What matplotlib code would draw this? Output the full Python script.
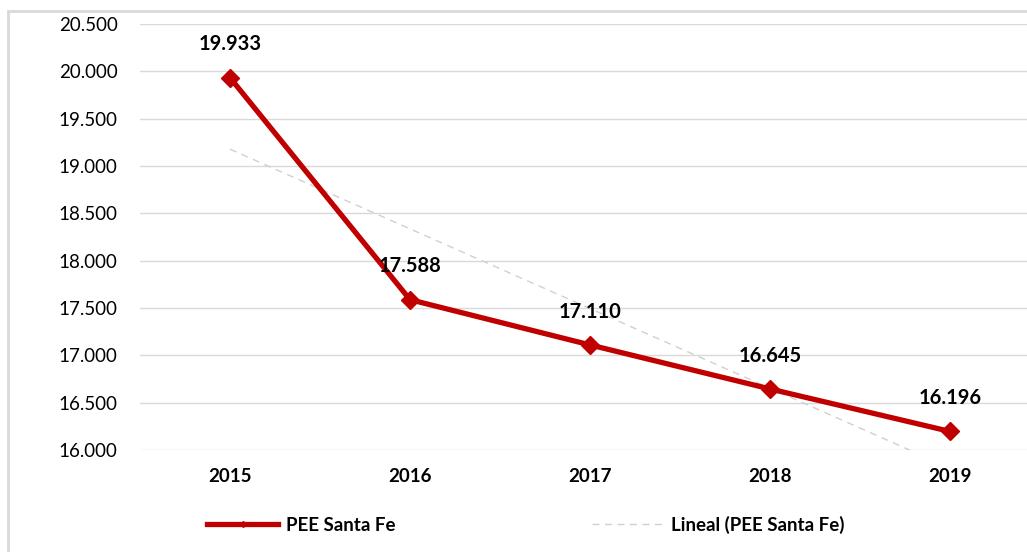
import matplotlib
matplotlib.use("Agg")
import matplotlib.pyplot as plt
from matplotlib.ticker import FuncFormatter, MultipleLocator
from matplotlib.lines import Line2D
from matplotlib.patches import Rectangle
import numpy as np

years = ["2015", "2016", "2017", "2018", "2019"]
values = [19933, 17588, 17110, 16645, 16196]
series_name = "PEE Santa Fe"
trend_name = "Lineal (PEE Santa Fe)"

plt.rcParams['font.family'] = ['Lato', 'DejaVu Sans']

W, H = 1027, 552
fig = plt.figure(figsize=(W / 100, H / 100), dpi=100)

# outer frame
fig.patches.append(Rectangle((8 / W, -0.1), 1.2, 1 - 11 / H + 0.1, transform=fig.transFigure,
                             fill=False, edgecolor='#d9d9d9', linewidth=2))

left, right, top, bottom = 140, 1040, 24, 450
ax = fig.add_axes([left / W, 1 - bottom / H, (right - left) / W, (bottom - top) / H])

x = np.arange(len(years))
red = '#C00000'
ax.plot(x, values, color=red, linewidth=3.8, marker='D', markersize=9, zorder=3)

# linear trend
coef = np.polyfit(x, values, 1)
xt = np.array([x[0], x[-1]])
ax.plot(xt, np.polyval(coef, xt), color='#d0d0d0', linewidth=1, linestyle=(0, (5, 4)), zorder=2)

for xi, v in zip(x, values):
    ax.annotate(f"{v:,}".replace(',', '.'), (xi, v), xytext=(0, 24), textcoords='offset points',
                ha='center', va='center', fontsize=14.5, fontweight='bold', color='black')

ax.set_xlim(-0.5, len(years) - 0.5)
ax.set_ylim(16000, 20500)
ax.yaxis.set_major_locator(MultipleLocator(500))
ax.yaxis.set_major_formatter(FuncFormatter(lambda v, p: f"{v:,.0f}".replace(',', '.')))
ax.set_xticks(x)
ax.set_xticklabels(years, fontweight='bold')
ax.tick_params(axis='both', length=0, labelsize=13.5)
ax.tick_params(axis='y', pad=16)
ax.tick_params(axis='x', pad=13)
ax.grid(axis='y', color='#d9d9d9', linewidth=1)
ax.set_axisbelow(True)
for s in ax.spines.values():
    s.set_visible(False)

handles = [Line2D([], [], color=red, linewidth=3.8, marker='D', markersize=3),
           Line2D([], [], color='#d0d0d0', linewidth=1, linestyle=(0, (5, 4)))]
leg = fig.legend(handles, [series_name, trend_name], loc='center', bbox_to_anchor=(0.512, 1 - 525 / H),
                 ncol=2, frameon=False, handlelength=3.8, columnspacing=10.5, handletextpad=0.4,
                 prop={'weight': 'bold', 'size': 13.5})

fig.savefig("out.png", dpi=100)
